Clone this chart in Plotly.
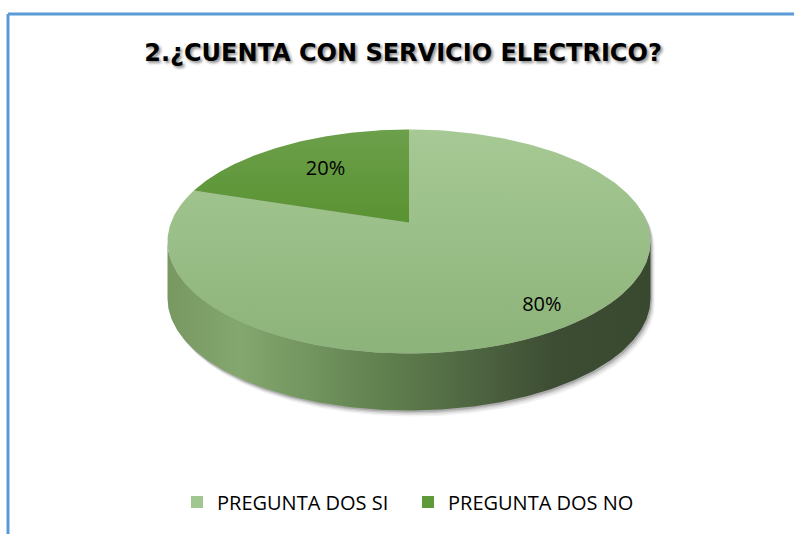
import numpy as np
import plotly.graph_objects as go

# ---------------- data ----------------
title_text = "2.¿CUENTA CON SERVICIO ELECTRICO?"
categories = ["PREGUNTA DOS SI", "PREGUNTA DOS NO"]
values = [80, 20]

# ---------------- style / geometry ----------------
W, H = 794, 534
CX, CY = 409, 241.5      # centre of projected top ellipse (px)
A, B = 241.5, 112        # semi axes of projected top ellipse
K = 0.17                 # perspective shift of pie centre
DEPTH = 57               # pie thickness (px)
LABEL_R = [0.84, 0.65]   # label radius (fraction) per slice
top_scales = [
    [[0, "#8cb379"], [1, "#a7c995"]],
    [[0, "#5a9332"], [1, "#6c9f4a"]],
]
side_scale = [[0, "#789862"], [0.15, "#83a76e"], [0.45, "#60804e"],
              [0.65, "#4d6340"], [0.8, "#3d4d33"], [1, "#394930"]]
legend_colors = ["#a2c690", "#5e9a3a"]
FONT = "Open Sans"


def px(xp):
    return xp / W


def py(yp):
    return 1 - yp / H


def proj(x, y):
    """unit-disk coordinates -> screen pixels (perspective)"""
    x = np.asarray(x, dtype=float)
    y = np.asarray(y, dtype=float)
    s = np.sqrt(1 - K * K)
    d = 1 + K * y
    return CX + A * x * s / d, CY - B * (y + K) / d


def arc(t0, t1, r=1.0, n=240):
    t = np.radians(np.linspace(t0, t1, n))
    return proj(r * np.cos(t), r * np.sin(t))


fig = go.Figure()

total = float(sum(values))
fractions = [v / total for v in values]

# silhouette for shadow
edge = np.degrees(np.arcsin(K))
bx, by = arc(-edge, 180 + edge)                  # back arc of top
fx, fy = arc(180 + edge, 360 - edge)             # front arc
sil_x = np.concatenate([bx, fx])
sil_y = np.concatenate([by, fy + DEPTH])
for off, a in [(6, 0.05), (4.5, 0.07), (3, 0.10), (1.8, 0.14)]:
    fig.add_trace(go.Scatter(
        x=sil_x + off * 0.7, y=sil_y + off, fill="toself", mode="lines",
        line=dict(width=0), fillcolor=f"rgba(0,0,0,{a})",
        hoverinfo="skip", showlegend=False))

# side wall (front part, belongs to first slice)
fig.add_trace(go.Scatter(
    x=np.concatenate([fx, fx[::-1]]),
    y=np.concatenate([fy, (fy + DEPTH)[::-1]]),
    fill="toself", mode="lines", line=dict(width=0),
    fillgradient=dict(type="horizontal", colorscale=side_scale),
    hoverinfo="skip", showlegend=False))

# top faces of slices (clockwise from 12 o'clock)
start = 90.0
mids = []
cx0, cy0 = proj(0.0, 0.0)
for i, f in enumerate(fractions):
    end = start - 360 * f
    ax_, ay_ = arc(start, end)
    fig.add_trace(go.Scatter(
        x=np.concatenate([[cx0], ax_, [cx0]]),
        y=np.concatenate([[cy0], ay_, [cy0]]),
        fill="toself", mode="lines", line=dict(width=0),
        fillgradient=dict(type="vertical", colorscale=top_scales[i]),
        hoverinfo="skip", showlegend=False))
    mids.append((start + end) / 2)
    start = end

# data labels
for i, f in enumerate(fractions):
    t = np.radians(mids[i])
    lx, ly = proj(LABEL_R[i] * np.cos(t), LABEL_R[i] * np.sin(t))
    fig.add_trace(go.Scatter(
        x=[float(lx)], y=[float(ly)], mode="text",
        text=[f"{round(f * 100):.0f}%"],
        textfont=dict(family=FONT, size=20, color="#000000"),
        hoverinfo="skip", showlegend=False))

# legend entries
for i, c in enumerate(categories):
    fig.add_trace(go.Scatter(
        x=[None], y=[None], mode="markers", name=c,
        marker=dict(symbol="square", size=12, color=legend_colors[i]),
        showlegend=True))

# chart border (top and left visible)
fig.add_shape(type="line", xref="paper", yref="paper",
              x0=px(8), x1=1.02, y0=py(14), y1=py(14),
              line=dict(color="#5b9bd5", width=3), layer="above")
fig.add_shape(type="line", xref="paper", yref="paper",
              x0=px(8), x1=px(8), y0=py(14), y1=-0.02,
              line=dict(color="#5b9bd5", width=3), layer="above")

fig.update_layout(
    width=W, height=H,
    margin=dict(l=0, r=0, t=0, b=0),
    paper_bgcolor="white", plot_bgcolor="white",
    xaxis=dict(range=[0, W], visible=False, fixedrange=True),
    yaxis=dict(range=[H, 0], visible=False, fixedrange=True),
    title=dict(text="<b>" + title_text + "</b>", x=px(403), y=py(53),
               xanchor="center", yanchor="middle",
               font=dict(family="DejaVu Sans", size=24, color="#000000",
                         shadow="2px 2px 3px rgba(0,0,0,0.45)")),
    legend=dict(orientation="h", x=px(177), xanchor="left",
                y=py(502), yanchor="middle",
                font=dict(family=FONT, size=20, color="#000000"),
                itemwidth=30, entrywidth=186, traceorder="normal"),
    showlegend=True,
)

fig.write_html(
    "out.html",
    config={"displayModeBar": False},
    post_script="document.body.style.margin='0';"
                "document.body.style.overflow='hidden';",
)
